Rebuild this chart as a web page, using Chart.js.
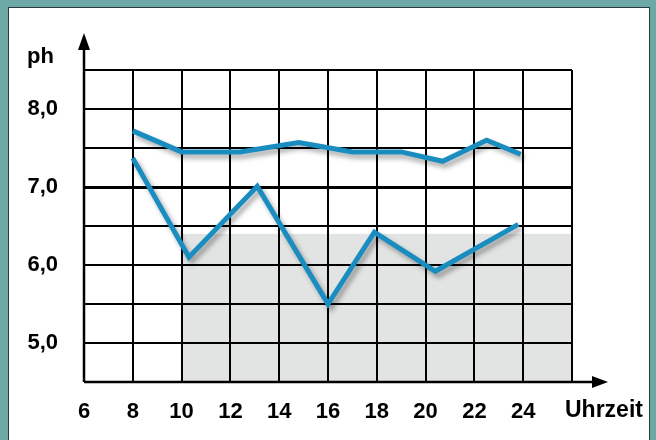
<!DOCTYPE html>
<html>
<head>
<meta charset="utf-8">
<script src="https://cdn.jsdelivr.net/npm/chart.js@4"></script>
<style>
  html, body { margin: 0; padding: 0; }
  body { width: 656px; height: 440px; background: #6ca9a6; position: relative; overflow: hidden; }
  .frame { position: absolute; left: 8px; top: 7px; width: 640px; height: 450px; background: #fff; border-left: 1px solid #2a3a3a; border-top: 1px solid #2a3a3a; border-right: 1px solid #2a3a3a; }
  #chart-ph { position: absolute; left: 0; top: 0; }
</style>
</head>
<body>
<div class="frame"></div>
<canvas id="chart-ph" width="656" height="440"></canvas>
<script>
// pH-Verlauf über den Tag
const upperX = [8, 10, 12.4, 14.8, 17, 19, 20.7, 22.5, 23.9];
const upperY = [7.72, 7.45, 7.45, 7.57, 7.45, 7.45, 7.33, 7.6, 7.42];
const lowerX = [8, 10.3, 13.1, 16, 17.9, 20.4, 23.8];
const lowerY = [7.37, 6.1, 7.01, 5.5, 6.42, 5.92, 6.52];
const xTicks = [6, 8, 10, 12, 14, 16, 18, 20, 22, 24];
const yLabels = [5, 6, 7, 8];
const shadeRange = [10, 26];  // Stunden
const shadeTop = 6.4;        // pH

const FONT = "'Liberation Sans', Arial, sans-serif";
const LINE = '#1a8dc0';

const toPts = (xs, ys) => xs.map((x, i) => ({ x, y: ys[i] }));

// grauer Bereich + Achsenpfeile + Achsentitel
const decoPlugin = {
  id: 'deco',
  beforeDraw(chart) {
    const { ctx: c, scales: { x, y } } = chart;
    const x0 = x.getPixelForValue(shadeRange[0]);
    const x1 = x.getPixelForValue(shadeRange[1]);
    const yt = y.getPixelForValue(shadeTop);
    const yb = y.getPixelForValue(y.min);
    c.save();
    c.fillStyle = '#e2e3e3';
    c.fillRect(x0, yt, x1 - x0, yb - yt);
    c.restore();
  },
  afterDraw(chart) {
    const { ctx: c, chartArea: { left, right, top, bottom } } = chart;
    c.save();
    c.strokeStyle = '#000';
    c.fillStyle = '#000';
    c.lineWidth = 2.5;
    // y-Achse
    c.beginPath(); c.moveTo(left, bottom); c.lineTo(left, top - 24); c.stroke();
    c.beginPath(); c.moveTo(left, top - 37); c.lineTo(left - 6, top - 20); c.lineTo(left + 6, top - 20); c.closePath(); c.fill();
    // x-Achse
    c.beginPath(); c.moveTo(left, bottom); c.lineTo(right + 24, bottom); c.stroke();
    c.beginPath(); c.moveTo(right + 36, bottom); c.lineTo(right + 20, bottom - 6); c.lineTo(right + 20, bottom + 6); c.closePath(); c.fill();

    c.textBaseline = 'middle';
    c.textAlign = 'left';
    c.font = 'bold 22px ' + FONT;
    c.fillText('ph', left - 57, top - 13);
    c.font = 'bold 23px ' + FONT;
    c.fillText('Uhrzeit', right - 7, bottom + 29);
    c.restore();
  }
};

// weicher Schatten unter den Linien
const shadowPlugin = {
  id: 'lineShadow',
  beforeDatasetDraw(chart) {
    const c = chart.ctx;
    c.save();
    c.shadowColor = 'rgba(0,0,0,0.35)';
    c.shadowBlur = 5;
    c.shadowOffsetX = 3;
    c.shadowOffsetY = 4;
  },
  afterDatasetDraw(chart) {
    chart.ctx.restore();
  }
};

const ctx = document.getElementById('chart-ph');
new Chart(ctx, {
  type: 'scatter',
  data: {
    datasets: [
      { data: toPts(upperX, upperY), showLine: true, borderColor: LINE, borderWidth: 5, pointRadius: 0, tension: 0, borderJoinStyle: 'miter' },
      { data: toPts(lowerX, lowerY), showLine: true, borderColor: LINE, borderWidth: 5, pointRadius: 0, tension: 0, borderJoinStyle: 'miter' }
    ]
  },
  plugins: [decoPlugin, shadowPlugin],
  options: {
    responsive: false,
    animation: false,
    devicePixelRatio: 1,
    layout: { padding: { left: 0, right: 84, top: 70, bottom: 0 } },
    plugins: { legend: { display: false }, tooltip: { enabled: false } },
    scales: {
      x: {
        type: 'linear', min: 6, max: 26,
        afterBuildTicks: (s) => { s.ticks = [...xTicks, 26].map(v => ({ value: v })); },
        ticks: {
          callback: (v) => xTicks.includes(v) ? String(v) : '',
          color: '#000', font: { family: FONT, size: 22, weight: 'bold' }, padding: 17, maxRotation: 0, autoSkip: false
        },
        grid: { color: '#000', lineWidth: 2, drawTicks: false },
        border: { display: false },
        afterFit: (s) => { s.height = 58; }
      },
      y: {
        min: 4.5, max: 8.5,
        ticks: {
          stepSize: 0.5,
          callback: (v) => yLabels.includes(v) ? v.toFixed(1).replace('.', ',') : '',
          color: '#000', font: { family: FONT, size: 22, weight: 'bold' }, padding: 26, autoSkip: false
        },
        grid: { color: '#000', lineWidth: (c) => c.tick && c.tick.value === 7 ? 3 : 2, drawTicks: false },
        border: { display: false },
        afterFit: (s) => { s.width = 84; }
      }
    }
  }
});
</script>
</body>
</html>
